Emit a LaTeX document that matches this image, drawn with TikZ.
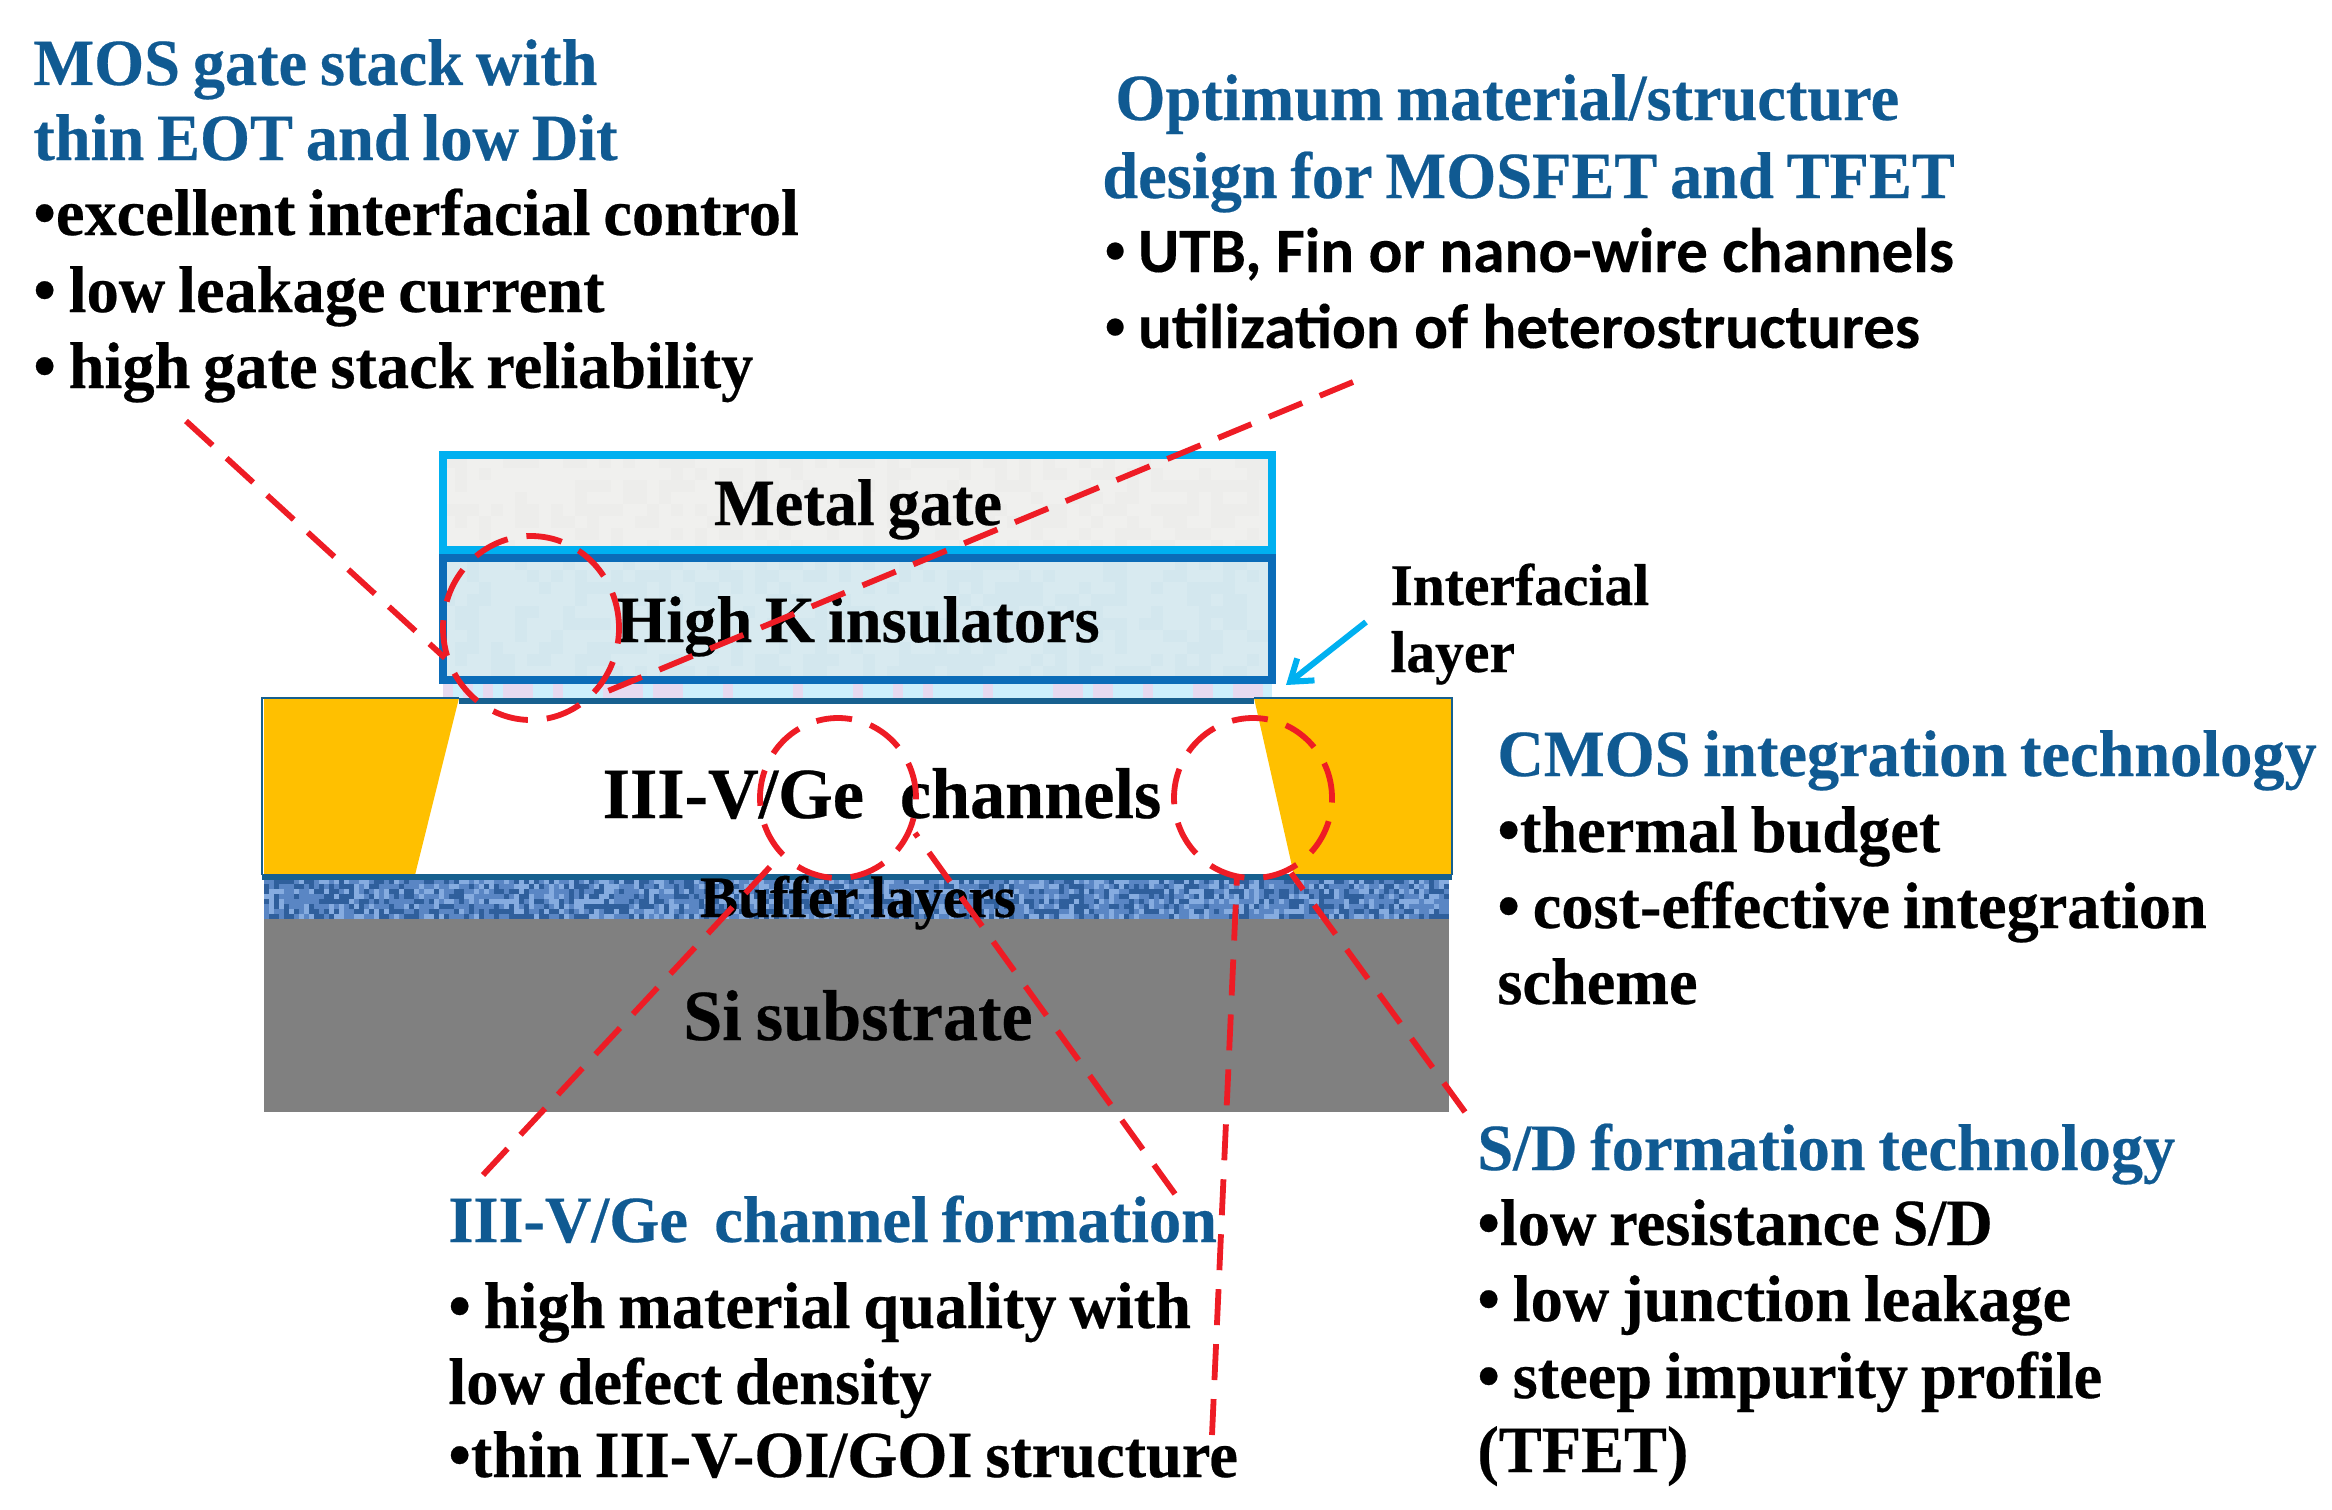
\documentclass[tikz,border=0pt]{standalone}
\usepackage{fontspec}
\usetikzlibrary{patterns,shapes.geometric,arrows.meta,shadings}
\setmainfont{Liberation Serif}[BoldFont={Liberation Serif Bold},BoldFeatures={FakeStretch=0.975,FakeBold=0.35,WordSpace=0.8}]
\newfontfamily\calb{Carlito}[BoldFont={Carlito Bold},BoldFeatures={FakeBold=0.2}]
\definecolor{tblue}{HTML}{105A92}
\definecolor{cyanb}{HTML}{00B0F0}
\definecolor{hkb}{HTML}{0B6CB8}
\definecolor{hkf}{HTML}{D8EAF0}
\definecolor{mgf}{HTML}{F0F0EE}
\definecolor{dkb}{HTML}{17608F}
\definecolor{orng}{HTML}{FFC000}
\definecolor{buf}{HTML}{5A86C4}
\definecolor{bufd}{HTML}{2F5F9C}
\definecolor{bufl}{HTML}{86ACE0}
\definecolor{redd}{HTML}{EE1C25}
\newcommand{\sbul}{{\rmfamily\bfseries •}\hspace{6pt}}
\tikzset{
 x=0.5pt,y=-0.5pt,
 big/.style={anchor=base west,inner sep=0pt,font=\fontsize{33}{33}\selectfont\bfseries},
 bigb/.style={big,text=tblue},
 sansb/.style={anchor=base west,inner sep=0pt,font=\calb\fontsize{31.6}{32}\selectfont\bfseries},
 lab/.style={anchor=base,inner sep=0pt,font=\fontsize{33}{33}\selectfont\bfseries},
 labl/.style={anchor=base,inner sep=0pt,font=\fontsize{36}{36}\selectfont\bfseries},
 small/.style={anchor=base west,inner sep=0pt,font=\fontsize{29.5}{30}\selectfont\bfseries},
 reddash/.style={draw=redd,line width=2.9pt,dash pattern=on 18pt off 9.5pt},
 ring/.style={reddash,ellipse,inner sep=0pt,fill=none},
}
\begin{document}
\begin{tikzpicture}
\useasboundingbox (0,0) rectangle (2332,1509);
\pgfmathsetseed{7}
% buffer layer
\fill[buf] (264,879) rectangle (1449,919);
\foreach \i in {0,...,236}{
  \foreach \j in {0,...,7}{
    \pgfmathsetmacro{\rr}{rnd}
    \ifdim\rr pt<0.33pt
      \fill[bufd] (264+5*\i,879+5*\j) rectangle ++(5,5);
    \else\ifdim\rr pt<0.6pt
      \fill[bufl] (264+5*\i,879+5*\j) rectangle ++(5,5);
    \fi\fi
  }
}
\fill[black!50] (264,919) rectangle (1449,1112);
% metal gate and high-k with faint mottling
\fill[mgf] (443,455) rectangle (1272,550);
\fill[hkf] (443,557) rectangle (1272,680);
\foreach \i in {0,...,68}{
  \foreach \j in {0,...,9}{
    \pgfmathsetmacro{\rr}{rnd}
    \ifdim\rr pt<0.4pt
      \fill[cyan!50!blue,opacity=0.025] (443+12*\i,558+12*\j) rectangle ++(12,12);
    \fi
  }
  \foreach \j in {0,...,7}{
    \pgfmathsetmacro{\rr}{rnd}
    \ifdim\rr pt<0.4pt
      \fill[black,opacity=0.012] (443+12*\i,456+12*\j) rectangle ++(12,12);
    \fi
  }
}
\draw[cyanb,line width=3.6pt] (443,455) rectangle (1272,550);
\draw[hkb,line width=3.6pt] (443,558) rectangle (1272,680);
% interfacial layer
\fill[cyan!20!white] (443,684) rectangle (1272,698);
\foreach \i in {0,...,82}{
  \pgfmathsetmacro{\rr}{rnd}
  \ifdim\rr pt<0.35pt
    \fill[magenta!25!blue!12] (443+10*\i,684) rectangle ++(10,14);
  \fi
}
% channel and source/drain
\fill[white] (264,699) rectangle (1452,877);
\fill[orng] (264,698) -- (459,698) -- (415,875) -- (264,875) -- cycle;
\fill[orng] (1254,698) -- (1452,698) -- (1452,875) -- (1294,875) -- cycle;
\draw[dkb,line width=1.4pt] (262,875) -- (262,698) -- (459,698);
\draw[dkb,line width=1.4pt] (1254,698) -- (1452,698) -- (1452,875);
\draw[dkb,line width=3pt] (459,701) -- (1254,701);
\draw[dkb,line width=3pt] (262,877) -- (1452,877);
% layer labels
\node[lab] (mg) at (858,525) {Metal gate};
\node[lab] (hk) at (858,642) {High K insulators};
\node[labl] (ch) at (882,818) {III-V/Ge\hspace{0.5em}channels};
\node[lab,font=\fontsize{29.3}{30}\selectfont\bfseries] (bl) at (858,917) {Buffer layers};
\node[labl] (si) at (858,1040) {Si substrate};
% interfacial
\node[small] (if1) at (1390,605) {Interfacial};
\node[small] (if2) at (1390,672) {layer};
\coordinate (ifs) at (1366,622);
\coordinate (ife) at (1286,685);
\draw[cyanb,line width=3pt,-{Straight Barb[length=10pt,width=14pt]}] (ifs) -- (ife);
% texts
\node[bigb] (a1) at (33,85) {MOS gate stack with};
\node[bigb] (a2) at (33,160) {thin EOT and low Dit};
\node[big] (a3) at (33,235) {•excellent interfacial control};
\node[big] (a4) at (33,312) {• low leakage current};
\node[big] (a5) at (33,388) {• high gate stack reliability};
\node[bigb] (b1) at (1115,120) {Optimum material/structure};
\node[bigb] (b2) at (1102,198) {design for MOSFET and TFET};
\node[sansb] (b3) at (1104,272) {\sbul UTB, Fin or nano-wire channels};
\node[sansb] (b4) at (1104,348) {\sbul utilization of heterostructures};
\node[bigb] (c1) at (1497,776) {CMOS integration technology};
\node[big] (c2) at (1497,852) {•thermal budget};
\node[big] (c3) at (1497,928) {• cost-effective integration};
\node[big] (c4) at (1497,1004) {scheme};
\node[bigb] (d1) at (1477,1170) {S/D formation technology};
\node[big] (d2) at (1477,1245) {•low resistance S/D};
\node[big] (d3) at (1477,1321) {• low junction leakage};
\node[big] (d4) at (1477,1398) {• steep impurity profile};
\node[big] (d5) at (1477,1472) {(TFET)};
\node[bigb] (e1) at (448,1242) {III-V/Ge\hspace{0.4em}channel formation};
\node[big] (e2) at (448,1328) {• high material quality with};
\node[big] (e3) at (448,1404) {low defect density};
\node[big] (e4) at (448,1477) {•thin III-V-OI/GOI structure};
% rings
\node[ring,minimum width=88pt,minimum height=92pt] (r1) at (531,628) {};
\node[ring,minimum width=78pt,minimum height=80pt] (r2) at (838,798) {};
\node[ring,minimum width=79pt,minimum height=80pt] (r3) at (1253,798) {};
% leader ends
\coordinate (p1) at (186,421);
\coordinate (q1) at (445,658);
\coordinate (p2) at (1353,382);
\coordinate (q2) at (591,698);
\coordinate (p3) at (483,1175);
\coordinate (q3) at (782,854);
\coordinate (p4) at (1175,1194);
\coordinate (q4) at (915,833);
\coordinate (p5) at (1212,1435);
\coordinate (q5) at (1237,876);
\coordinate (p6) at (1465,1112);
\coordinate (q6) at (1291,873);
\draw[reddash] (p1) -- (q1);
\draw[reddash] (p2) -- (q2);
\draw[reddash] (p3) -- (q3);
\draw[reddash] (p4) -- (q4);
\draw[reddash] (p5) -- (q5);
\draw[reddash] (p6) -- (q6);
\end{tikzpicture}
\end{document}
